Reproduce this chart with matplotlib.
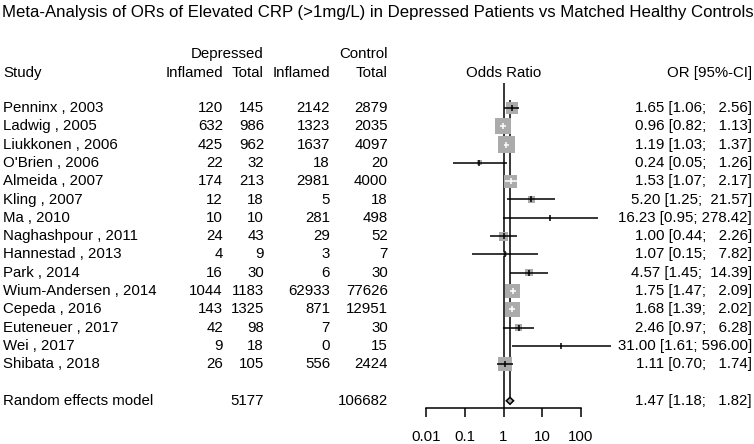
import numpy as np
import matplotlib
matplotlib.use("Agg")
import matplotlib.pyplot as plt
from matplotlib.ticker import FixedLocator, FixedFormatter, NullLocator

plt.rcParams['font.family'] = ['Liberation Sans', 'DejaVu Sans']

# data
studies = ["Penninx , 2003", "Ladwig , 2005", "Liukkonen , 2006", "O'Brien , 2006",
           "Almeida , 2007", "Kling , 2007", "Ma , 2010", "Naghashpour , 2011",
           "Hannestad , 2013", "Park , 2014", "Wium-Andersen , 2014", "Cepeda , 2016",
           "Euteneuer , 2017", "Wei , 2017", "Shibata , 2018"]
dep_inflamed = [120, 632, 425, 22, 174, 12, 10, 24, 4, 16, 1044, 143, 42, 9, 26]
dep_total = [145, 986, 962, 32, 213, 18, 10, 43, 9, 30, 1183, 1325, 98, 18, 105]
ctl_inflamed = [2142, 1323, 1637, 18, 2981, 5, 281, 29, 3, 6, 62933, 871, 7, 0, 556]
ctl_total = [2879, 2035, 4097, 20, 4000, 18, 498, 52, 7, 30, 77626, 12951, 30, 15, 2424]
odds = [1.65, 0.96, 1.19, 0.24, 1.53, 5.20, 16.23, 1.00, 1.07, 4.57, 1.75, 1.68, 2.46, 31.00, 1.11]
ci_low = [1.06, 0.82, 1.03, 0.05, 1.07, 1.25, 0.95, 0.44, 0.15, 1.45, 1.47, 1.39, 0.97, 1.61, 0.70]
ci_high = [2.56, 1.13, 1.37, 1.26, 2.17, 21.57, 278.42, 2.26, 7.82, 14.39, 2.09, 2.02, 6.28, 596.00, 1.74]
# approximate random-effects weights (%), estimated from square sizes
weights = [8.8, 14.5, 15.0, 1.4, 9.6, 2.5, 0.2, 4.6, 0.9, 3.0, 12.7, 12.7, 3.3, 0.2, 10.5]

pooled_label = "Random effects model"
pooled_or, pooled_low, pooled_high = 1.47, 1.18, 1.82
pooled_dep_total = 5177
pooled_ctl_total = 106682

tick_values = [0.01, 0.1, 1, 10, 100]
tick_labels = ["0.01", "0.1", "1", "10", "100"]

title = "Meta-Analysis of ORs of Elevated CRP (>1mg/L) in Depressed Patients vs Matched Healthy Controls"

# layout (pixels)
W, H = 754, 444
y0, dy = 108, 18.3          # first study row and row spacing
ppd = 38.75                 # pixels per decade on the forest scale
x_one = 503.5               # pixel position of OR = 1
f_left, f_right = 420, 615
fs = 10.8
grey = "#ABABAB"


def row_of(px):
    return (px - y0) / dy


fig = plt.figure(figsize=(W / 100, H / 100), dpi=100)
tab = fig.add_axes([0, 0, 1, 1])
tab.set_xlim(0, W)
tab.set_ylim(row_of(H), row_of(0))
tab.axis('off')

# title and headers
tab.text(2, row_of(12), title, fontsize=12.1, ha='left', va='center')
tab.text(3, -1.9, "Study", fontsize=fs, ha='left', va='center')
col_x = [223, 264, 330, 388]
for x, lab in zip(col_x, ["Inflamed", "Total", "Inflamed", "Total"]):
    tab.text(x, -1.9, lab, fontsize=fs, ha='right', va='center')
tab.text(264, -2.95, "Depressed", fontsize=fs, ha='right', va='center')
tab.text(388, -2.95, "Control", fontsize=fs, ha='right', va='center')
tab.text(x_one, -1.9, "Odds Ratio", fontsize=fs, ha='center', va='center')
tab.text(752, -1.9, "OR [95%-CI]", fontsize=fs, ha='right', va='center')

# study rows
for i, name in enumerate(studies):
    tab.text(3, i, name, fontsize=fs, ha='left', va='center')
    for x, v in zip(col_x, [dep_inflamed[i], dep_total[i], ctl_inflamed[i], ctl_total[i]]):
        tab.text(x, i, str(v), fontsize=fs, ha='right', va='center')
    s = f"{odds[i]:.2f} [{ci_low[i]:.2f}; {ci_high[i]:>6.2f}]"
    tab.text(752, i, s, fontsize=fs, ha='right', va='center')

pooled_row = len(studies) + 1
tab.text(3, pooled_row, pooled_label, fontsize=fs, ha='left', va='center')
tab.text(264, pooled_row, str(pooled_dep_total), fontsize=fs, ha='right', va='center')
tab.text(388, pooled_row, str(pooled_ctl_total), fontsize=fs, ha='right', va='center')
tab.text(752, pooled_row,
         f"{pooled_or:.2f} [{pooled_low:.2f}; {pooled_high:>6.2f}]",
         fontsize=fs, ha='right', va='center')

# forest panel
forest = fig.add_axes([f_left / W, 0, (f_right - f_left) / W, 1], sharey=tab)
forest.set_xscale('log')
forest.set_xlim(10 ** ((f_left - x_one) / ppd), 10 ** ((f_right - x_one) / ppd))
forest.patch.set_alpha(0)
for side in ['top', 'left', 'right']:
    forest.spines[side].set_visible(False)
axis_row = row_of(408)
forest.spines['bottom'].set_position(('data', axis_row))
forest.spines['bottom'].set_bounds(tick_values[0], tick_values[-1])
forest.spines['bottom'].set_linewidth(1.1)
forest.xaxis.set_major_locator(FixedLocator(tick_values))
forest.xaxis.set_major_formatter(FixedFormatter(tick_labels))
forest.xaxis.set_minor_locator(NullLocator())
forest.tick_params(axis='x', direction='out', length=6.5, width=1.1, pad=9,
                   labelsize=fs)
forest.tick_params(axis='y', left=False, labelleft=False)

# reference line and pooled estimate line
forest.vlines(1, row_of(83), axis_row, color='black', lw=1.1)
diamond_h = 0.19
forest.vlines(pooled_or, -0.45, pooled_row - diamond_h, color='black', lw=1.1)

# squares and CIs
k = 16 / np.sqrt(14.5)     # square side in px per sqrt(weight)
for i in range(len(studies)):
    side_px = k * np.sqrt(weights[i])
    forest.scatter([odds[i]], [i], marker='s', s=(side_px * 0.72) ** 2,
                   color=grey, edgecolors='none', zorder=2)
    half = side_px / 2
    inside = (np.log10(ci_high[i] / odds[i]) * ppd < half and
              np.log10(odds[i] / ci_low[i]) * ppd < half)
    c = 'white' if inside else 'black'
    forest.hlines(i, ci_low[i], ci_high[i], color=c, lw=1.1, zorder=3)
    forest.plot([odds[i]], [i], marker='|', ms=4, mew=1.1, color=c, zorder=4)

# pooled diamond
forest.fill([pooled_low, pooled_or, pooled_high, pooled_or],
            [pooled_row, pooled_row - diamond_h, pooled_row, pooled_row + diamond_h],
            facecolor=grey, edgecolor='black', lw=1.1, zorder=3)

fig.savefig("out.png", dpi=100)
